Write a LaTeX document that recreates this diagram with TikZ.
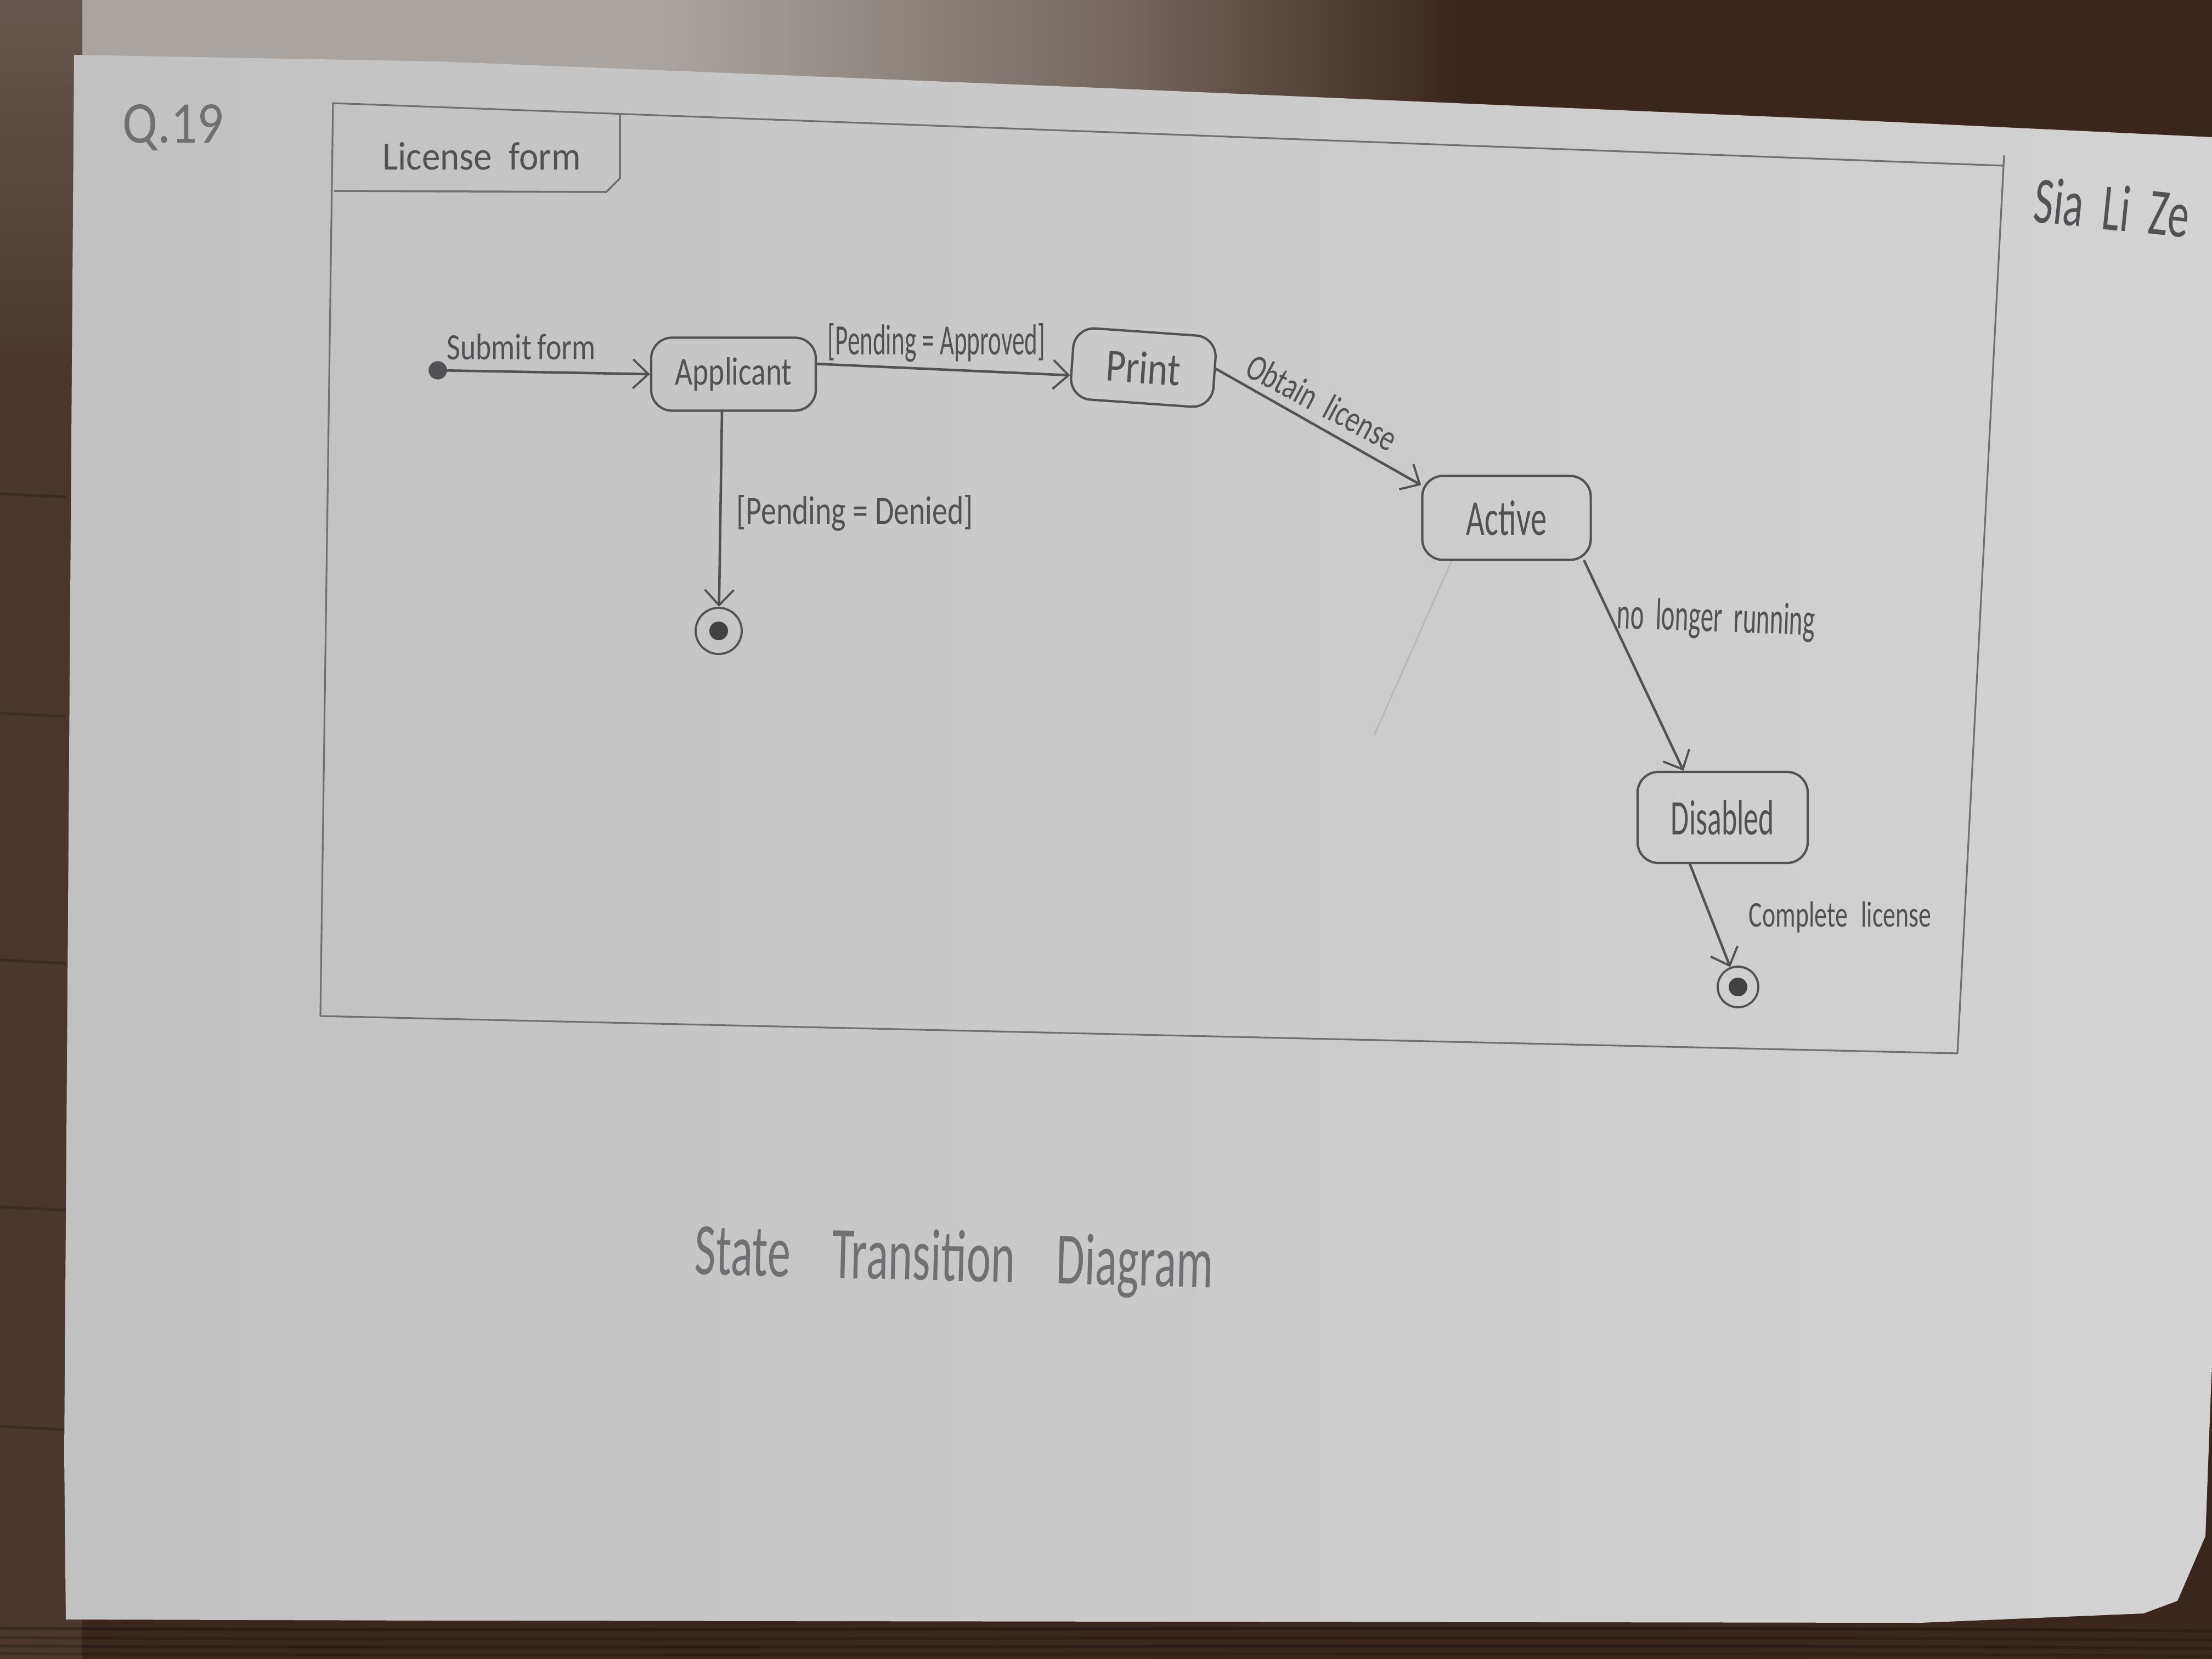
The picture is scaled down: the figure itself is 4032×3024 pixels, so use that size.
\documentclass[tikz,border=0pt]{standalone}
\usepackage{graphicx}
\usepackage{fontspec}
\newfontfamily\hand{Carlito}
\usetikzlibrary{arrows.meta,calc}

% table, paper and pencil tones
\definecolor{wood}{RGB}{58,38,29}
\definecolor{woodleft}{RGB}{74,54,44}
\definecolor{woodmid}{RGB}{100,86,78}
\definecolor{woodgray}{RGB}{118,106,98}
\definecolor{glare}{RGB}{170,164,160}
\definecolor{paperL}{RGB}{193,193,194}
\definecolor{paperR}{RGB}{211,211,212}
\definecolor{pencil}{RGB}{82,82,85}
\definecolor{pencilsoft}{RGB}{112,112,115}

% light reflected on the upper part of the table
\pgfdeclarehorizontalshading{topglare}{100bp}{color(0bp)=(woodmid); color(25bp)=(woodmid);
  color(26.5bp)=(glare); color(40bp)=(glare); color(50bp)=(woodgray); color(58bp)=(wood); color(100bp)=(wood)}

% handwritten label: width, height, text
\newcommand{\hw}[3]{\resizebox{#1}{#2}{\hand #3}}
% wide gap between handwritten words
\newcommand{\gap}{\hspace{0.45em}}

\begin{document}
\begin{tikzpicture}[x=0.01cm,y=-0.01cm,
  stbox/.style={draw=pencil, line width=1.2pt, rounded corners=0.38cm, inner sep=0pt, text=pencil},
  conn/.style={draw=pencil, line width=1.3pt, line cap=round, line join=round,
    -{Straight Barb[length=8pt,width=15pt,line width=1.1pt]}},
  lbl/.style={inner sep=0pt, text=pencil},
  startdot/.style={circle, fill=pencil, draw=pencil, minimum size=0.32cm, inner sep=0pt},
  enddot/.style={circle, draw=pencil, line width=1.1pt, inner sep=0pt, minimum size=#1,
    path picture={\fill[pencil!80!black] (path picture bounding box.center) circle (0.17cm);}},
  framepen/.style={draw=pencilsoft, line width=0.9pt, line cap=round, line join=round}]

\useasboundingbox (0,0) rectangle (4032,3024);

% table top
\fill[wood] (0,0) rectangle (4032,3024);
\shade[shading=topglare] (0,0) rectangle (4032,330);
\fill[woodleft] (0,700) rectangle (150,3024);
\shade[top color=woodmid, bottom color=woodleft] (0,0) rectangle (150,700);
\foreach \y/\o in {2968/0.25,2985/0.18,3000/0.22,3014/0.15} {
  \draw[black, opacity=\o, line width=1.5pt] (0,\y) .. controls (1300,\y+8) and (2700,\y-7) .. (4032,\y+5);
}
\foreach \y/\o in {900/0.2,1300/0.15,1750/0.2,2200/0.18,2600/0.2} {
  \draw[black, opacity=\o, line width=1.5pt] (0,\y) -- (120,\y+6);
}

% sheet of paper
\shade[left color=paperL, right color=paperR]
  (135,100) -- (800,112) -- (2000,160) -- (3400,220) -- (4032,250) -- (4032,2480)
  -- (4020,2800) -- (3969,2918) -- (3907,2941) -- (3500,2958) -- (800,2954)
  -- (120,2952) -- (117,2650) -- cycle;

% diagram frame with its name tab
\draw[framepen] (607,188) -- (3652,302) -- (3568,1920) -- (584,1852) -- cycle;
\draw[framepen] (3652,302) -- (3653,284);
\draw[framepen, line width=1pt] (610,348) -- (1105,350) -- (1130,325) -- (1130,208);

% faint erased stroke below Active
\draw[pencil, opacity=0.16, line width=0.8pt] (2646,1022) -- (2505,1340);

% states
\node[startdot] (start) at (798,675) {};
\node[stbox, minimum width=3.0cm, minimum height=1.33cm] (app) at (1337,682)
  {\hw{2.13cm}{0.50cm}{Applicant}};
\node[stbox, minimum width=2.6cm, minimum height=1.3cm, rotate=-4] (print) at (2084,670)
  {\hw{1.36cm}{0.58cm}{Print}};
\node[stbox, minimum width=3.07cm, minimum height=1.53cm] (active) at (2746,944)
  {\hw{1.46cm}{0.63cm}{Active}};
\node[stbox, minimum width=3.10cm, minimum height=1.66cm] (disabled) at (3140,1490)
  {\hw{1.88cm}{0.63cm}{Disabled}};
\node[enddot=0.84cm] (end1) at (1310,1150) {};
\node[enddot=0.74cm] (end2) at (3168,1799) {};

% transitions
\draw[conn] (start) -- (app.west);
\draw[conn] (app.7) -- (print.190);
\draw[conn] (print.3) -- (active.159);
\draw[conn] (active.-29) -- (disabled.130);
\draw[conn] (disabled.-125) -- (end2);
\draw[conn] (app.-107) -- (end1);

% transition labels
\node[lbl] (lsubmit) at (950,632) {\hw{2.71cm}{0.47cm}{Submit\hspace{0.2em}form}};
\node[lbl] (lapproved) at (1707,625) {\hw{3.96cm}{0.57cm}{[Pending = Approved]}};
\node[lbl, rotate=-28] (lobtain) at (2410,733) {\hw{3.0cm}{0.47cm}{Obtain\gap license}};
\node[lbl] (ldenied) at (1558,935) {\hw{4.31cm}{0.53cm}{[Pending = Denied]}};
\node[lbl, rotate=-2] (lnolonger) at (3128,1130) {\hw{3.61cm}{0.57cm}{no\gap longer\gap running}};
\node[lbl] (lcomplete) at (3354,1672) {\hw{3.32cm}{0.46cm}{Complete\hspace{0.3em} license}};

% frame name, heading and signature
\node[lbl] (lform) at (878,285) {\hw{3.61cm}{0.50cm}{License\gap form}};
\node[lbl, text=pencilsoft] (lq) at (316,233) {\hw{1.84cm}{0.70cm}{Q.19}};
\node[lbl, rotate=-6] (lname) at (3850,378) {\hw{2.83cm}{0.83cm}{Sia\gap Li\gap Ze}};
\node[lbl, text=pencilsoft, rotate=-1.5] (ltitle) at (1739,2300)
  {\hw{9.44cm}{0.93cm}{State\gap\gap Transition\gap\gap Diagram}};
\end{tikzpicture}
\end{document}
